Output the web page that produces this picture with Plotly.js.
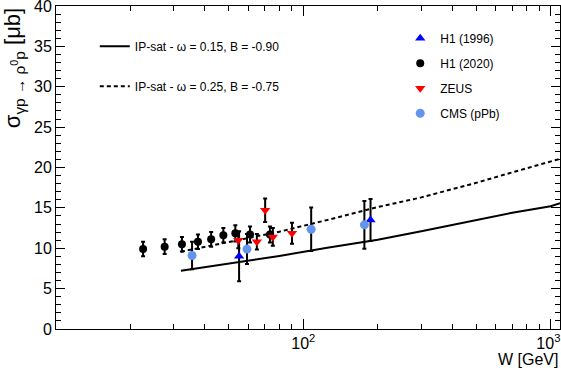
<!DOCTYPE html>
<html><head><meta charset="utf-8">
<script src="https://cdn.plot.ly/plotly-3.0.1.min.js"></script>
<style>html,body{margin:0;padding:0;background:#fff;}#chart{width:561px;height:371px;}</style>
</head><body><div id="chart"></div>
<script>
// Model curves (IP-sat)
const ipsat1_W = [32, 50, 80, 125, 200, 300, 500, 700, 1000, 1100];
const ipsat1_sigma = [7.2, 8.1, 9.05, 10.05, 11.05, 12.1, 13.5, 14.4, 15.2, 15.6];
const ipsat2_W = [32, 50, 80, 125, 200, 300, 500, 700, 1000, 1100];
const ipsat2_sigma = [9.57, 10.8, 12.05, 13.5, 15.1, 16.3, 18.1, 19.4, 20.7, 21.1];
// Data
const h1_1996_W = [55, 187];
const h1_1996_sigma = [9.0, 13.5];
const h1_1996_err = [3.1, 2.6];
const h1_2020_W = [22.5, 27.5, 32.3, 37.5, 42.4, 47.5, 53.1, 60.9, 73.3];
const h1_2020_sigma = [9.9, 10.2, 10.5, 10.8, 11.1, 11.6, 11.85, 11.7, 11.7];
const h1_2020_err = [0.9, 0.9, 0.9, 0.9, 0.9, 0.9, 1.0, 1.0, 1.0];
const zeus_W = [54.6, 64.9, 70.1, 75.3, 90];
const zeus_sigma = [11.0, 10.8, 14.7, 11.4, 11.85];
const zeus_err = [1.0, 0.95, 1.45, 1.1, 1.3];
const cms_W = [35.5, 59.2, 107.6, 176.6];
const cms_sigma = [9.1, 9.9, 12.35, 12.9];
const cms_err = [1.7, 1.85, 2.7, 2.95];

const xMinor = [20,30,40,50,60,70,80,90,200,300,400,500,600,700,800,900];
const xMajor = [100, 1000];
const xMajorText = ['10<sup>2</sup>', '10<sup>3</sup>&nbsp;'];

const errStyle = v => ({type:'data', array:v, visible:true, color:'#000', thickness:2, width:2});

const traces = [
  {x: ipsat1_W, y: ipsat1_sigma, mode:'lines', name:'IP-sat - ω = 0.15, B = -0.90',
   line:{color:'#000', width:2}, legend:'legend', legendgroup:'a'},
  {x: ipsat2_W, y: ipsat2_sigma, mode:'lines', name:'IP-sat - ω = 0.25, B = -0.75',
   line:{color:'#000', width:2, dash:'4px,3px'}, legend:'legend', legendgroup:'b'},
  {x: h1_1996_W, y: h1_1996_sigma, error_y: errStyle(h1_1996_err), mode:'markers', name:'H1 (1996)',
   marker:{symbol:'triangle-up', color:'#0000ff', size:9}, legend:'legend2', legendgroup:'c'},
  {x: h1_2020_W, y: h1_2020_sigma, error_y: errStyle(h1_2020_err), mode:'markers', name:'H1 (2020)',
   marker:{symbol:'circle', color:'#000', size:8}, legend:'legend2', legendgroup:'d'},
  {x: zeus_W, y: zeus_sigma, error_y: errStyle(zeus_err), mode:'markers', name:'ZEUS',
   marker:{symbol:'triangle-down', color:'#ff0000', size:9}, legend:'legend2', legendgroup:'e'},
  {x: cms_W, y: cms_sigma, error_y: errStyle(cms_err), mode:'markers', name:'CMS (pPb)',
   marker:{symbol:'circle', color:'#6495ed', size:9}, legend:'legend2', legendgroup:'f'}
];

const font = 'Liberation Sans, Arial, sans-serif';
const layout = {
  width:561, height:371,
  margin:{l:56, r:1, t:6, b:42},
  paper_bgcolor:'#fff', plot_bgcolor:'#fff',
  font:{family:font, color:'#000'},
  showlegend:true,
  xaxis:{type:'log', range:[1, 3.038], showline:true, linecolor:'#000', linewidth:1, mirror:'ticks',
    ticks:'inside', ticklen:10, tickcolor:'#000', tickvals:xMajor, ticktext:xMajorText,
    tickfont:{size:16, family:font}, showgrid:false, zeroline:false, ticklabeloverflow:'allow',
    minor:{tickmode:'array', tickvals:xMinor, ticks:'inside', ticklen:5, tickcolor:'#000', showgrid:false}},
  yaxis:{range:[0,40], showline:true, linecolor:'#000', linewidth:1, mirror:'ticks',
    ticks:'inside', ticklen:9, tickcolor:'#000', tickmode:'linear', dtick:5, tick0:0,
    tickfont:{size:16, family:font}, showgrid:false, zeroline:false, ticklabeloverflow:'allow',
    minor:{dtick:1, ticks:'inside', ticklen:5, tickcolor:'#000', showgrid:false}},
  legend:{x:0.077, y:0.92, xanchor:'left', yanchor:'top', bgcolor:'rgba(0,0,0,0)',
    font:{size:12, family:font}, traceorder:'grouped', tracegroupgap:21},
  legend2:{x:0.683, y:0.945, xanchor:'left', yanchor:'top', bgcolor:'rgba(0,0,0,0)',
    font:{size:12, family:font}, traceorder:'grouped', tracegroupgap:6},
  annotations:[
    {xref:'paper', yref:'paper', x:-0.083, y:1.0, xanchor:'center', yanchor:'top', textangle:-90,
     showarrow:false, text:'σ<sub>γp → ρ<sup>0</sup>p</sub> [μb]', font:{size:22, family:font}},
    {xref:'paper', yref:'paper', x:1.0, y:-0.062, xanchor:'right', yanchor:'top',
     showarrow:false, text:'W [GeV]', font:{size:16, family:font}}
  ]
};
Plotly.newPlot('chart', traces, layout, {displayModeBar:false, staticPlot:true});
</script></body></html>
